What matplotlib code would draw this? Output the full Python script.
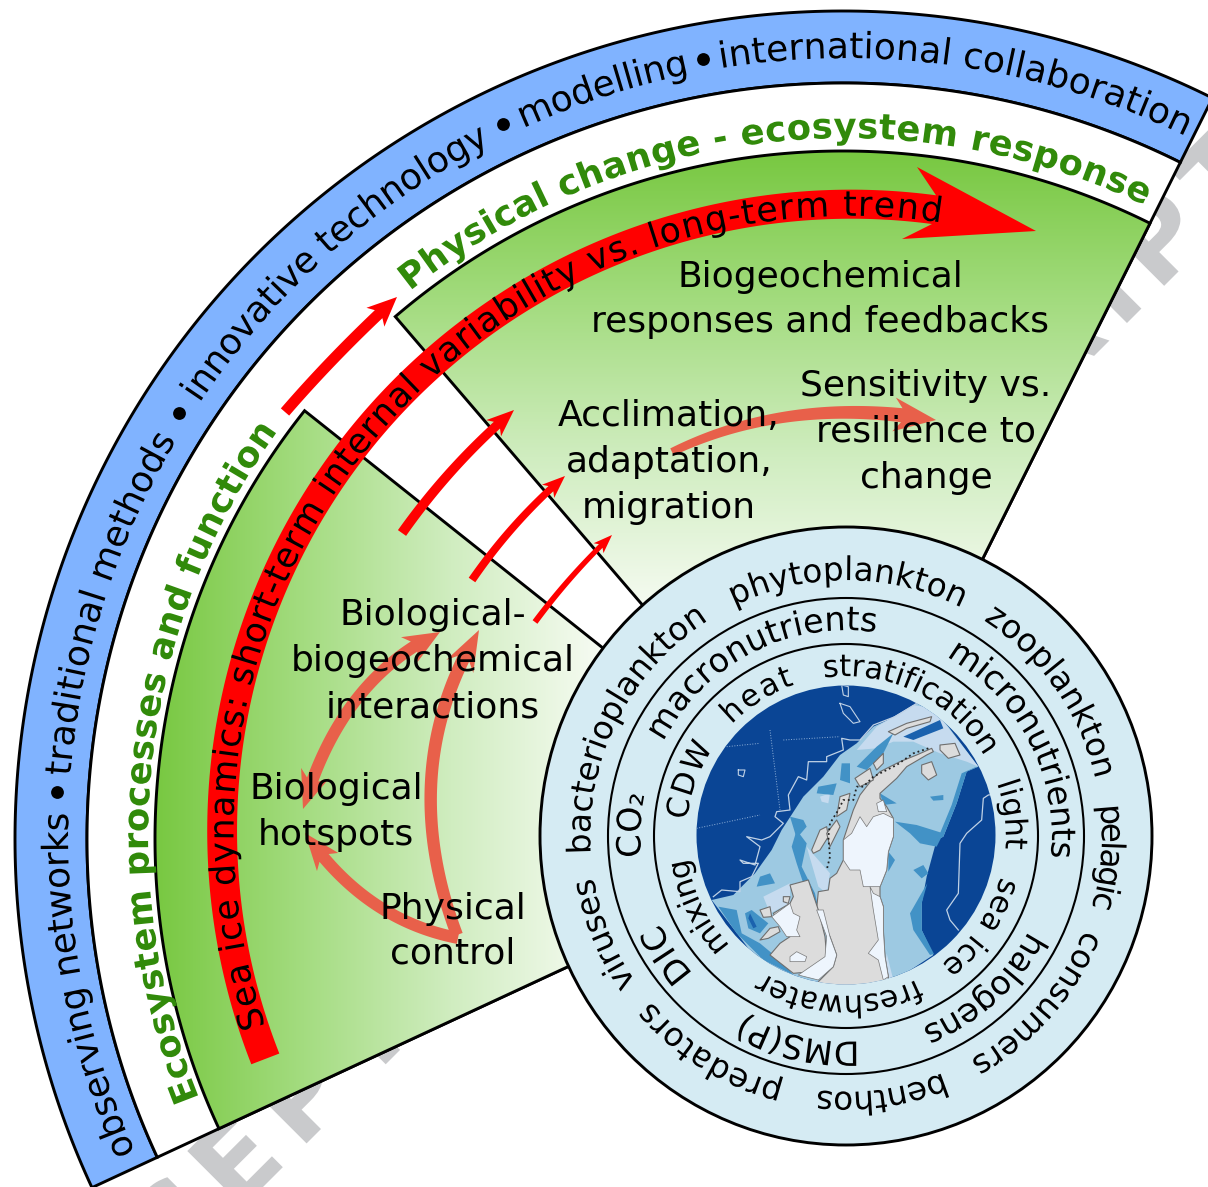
import numpy as np
import matplotlib
matplotlib.use('Agg')
import matplotlib.pyplot as plt
import matplotlib.patheffects as pe
from matplotlib.patches import Polygon, Circle, Ellipse
from matplotlib.colors import LinearSegmentedColormap
from matplotlib.font_manager import FontProperties, findfont, get_font
from matplotlib.ft2font import LoadFlags

W, H = 1208, 1187
CX, CY = 846, 836      # centre of the rings and of the curved text
FX, FY = 843, 839      # centre of the fan outline

# ---- text data -----
watermark = "ACCEPTED MANUSCRIPT"
outer_band = [("observing networks", 204.0, 178.3), ("traditional methods", 175.6, 149.4),
              ("innovative technology", 146.2, 117.2), ("modelling", 114.5, 101.6),
              ("international collaboration", 99.3, 64.1)]
outer_bullets = [176.8, 147.6, 115.7, 100.4]
green_titles = [("Ecosystem processes and function", 202.1, 144.5), ("Physical change - ecosystem response", 128.7, 64.6)]
red_title = ("Sea ice dynamics: short-term internal variability vs. long-term trend", 198.2, 81.1)
ring1 = [("bacterioplankton", 184, 122.5), ("phytoplankton", 116, 63.1), ("zooplankton", 57.5, 12.8),
         ("pelagic", 6.6, -16), ("consumers", -21.5, -61), ("benthos", -67.7, -96.5),
         ("predators", -104, -139.8), ("viruses", -145.1, -170.6)]
ring2 = [("CO\u2082", 186, 168.2), ("macronutrients", 152.8, 81.5), ("micronutrients", 60.8, -6.1),
         ("halogens", -27.6, -68.3), ("DMS(P)", -86.3, -119.8), ("DIC", -137.8, -155)]
ring3 = [("CDW", 174.5, 146.2), ("heat", 136.2, 108.6), ("stratification", 98, 30), ("light", 19.4, -4.7),
         ("sea ice", -14.8, -53.5), ("freshwater", -63.7, -121.4), ("mixing", -136.8, -171.8)]
labels = [("Biogeochemical", 820, 287), ("responses and feedbacks", 820, 332),
          ("Acclimation,", 669, 426), ("adaptation,", 669, 472), ("migration", 669, 518),
          ("Sensitivity vs.", 926, 396), ("resilience to", 926, 442), ("change", 926, 488),
          ("Biological-", 433, 625), ("biogeochemical", 433, 671), ("interactions", 433, 717),
          ("Biological", 336, 799), ("hotspots", 336, 845), ("Physical", 453, 919), ("control", 453, 964)]

# ---- colours -----
BLUE = '#80b3ff'; RING = '#d5ebf3'; GREEN_TXT = '#318a0a'; ARROW2 = '#e8604a'
greens = LinearSegmentedColormap.from_list('g', ['#78c841', '#a4dc80', '#d0edc0', '#f6fbf2'])

plt.rcParams['font.family'] = 'DejaVu Sans'
fig = plt.figure(figsize=(W / 100, H / 100), dpi=100)
ax = fig.add_axes([0, 0, 1, 1])
ax.set_xlim(0, W); ax.set_ylim(H, 0); ax.axis('off')


def pt(r, a, cx=CX, cy=CY):
    t = np.radians(a)
    return cx + r * np.cos(t), cy - r * np.sin(t)


def wedge(r0, r1, a0, a1, n=240):
    a = np.linspace(a0, a1, n)
    x1, y1 = pt(r1, a, FX, FY)
    x0, y0 = pt(r0, a[::-1], FX, FY)
    return np.column_stack([np.r_[x1, x0], np.r_[y1, y0]])


def advances(s, bold=False):
    fp = FontProperties(family='DejaVu Sans', weight='bold' if bold else 'normal')
    f = get_font(findfont(fp))
    f.set_size(100, 72)
    return np.array([f.load_char(ord(c), flags=LoadFlags.NO_HINTING).linearHoriAdvance / 65536 for c in s])


def arc_text(s, r, a0, a1, fs, color='k', bold=False, z=20):
    """r: baseline radius, or (r at a0, r at a1). Glyphs are drawn as outlines for sub-pixel placement."""
    adv = advances(s, bold)
    r0, r1 = r if isinstance(r, tuple) else (r, r)
    fs_px = fs * 100 / 72
    total = adv.sum()
    before = np.cumsum(adv) - adv
    for c, b, w in zip(s, before, adv):
        if c == ' ':
            continue
        ac = a0 + (a1 - a0) * (b + w / 2) / total
        rr = r0 + (r1 - r0) * (b + w / 2) / total
        natural = np.degrees((w / 100 * fs_px) / rr) / 2    # half the glyph's own width, in degrees
        a_start = ac - np.sign(a1 - a0) * natural
        x, y = pt(rr, a_start)
        ax.text(x, y, c, rotation=ac - 90, rotation_mode='anchor', ha='left', va='baseline',
                fontsize=fs, color=color, fontweight='bold' if bold else 'normal', zorder=z,
                path_effects=[pe.Normal()])


def bezier_arrow(p0, c, p1, w0, w1, hw, hl, color, z=10, head_start=None):
    t = np.linspace(0, 1, 60)
    p0, c, p1 = map(np.array, (p0, c, p1))
    P = np.outer((1 - t) ** 2, p0) + np.outer(2 * t * (1 - t), c) + np.outer(t ** 2, p1)
    d = np.gradient(P, axis=0)
    L = np.cumsum(np.r_[0, np.hypot(*np.diff(P, axis=0).T)])
    keep = L < L[-1] - hl
    if head_start:
        keep &= L > head_start
    Q = P[keep]; dd = d[keep]
    n = np.column_stack([-dd[:, 1], dd[:, 0]]) / np.hypot(dd[:, 0], dd[:, 1])[:, None]
    w = np.interp(L[keep], [0, L[-1]], [w0, w1])[:, None] / 2
    left, right = Q + n * w, Q - n * w
    pts = [left]
    nn = n[-1]
    back = (Q[-1] - Q[-3]) * 0.8
    pts.append(np.array([Q[-1] + nn * hw / 2 - back, p1, Q[-1] - nn * hw / 2 - back]))
    pts.append(right[::-1])
    if head_start:
        n0 = n[0]
        fwd = (Q[2] - Q[0]) * 0.8
        pts.append(np.array([Q[0] - n0 * hw / 2 + fwd, p0, Q[0] + n0 * hw / 2 + fwd]))
    ax.add_patch(Polygon(np.vstack(pts), closed=True, fc=color, ec='none', zorder=z))


# ---- watermark: spaced letters along the 45 degree line x + y = 1450 ----
wm_fs = 78
wm_px = wm_fs * 100 / 72
wm_track = 1.205
wm_adv = advances(watermark, bold=True) / 100 * wm_px
wm_before = np.cumsum(wm_adv) - wm_adv
wm_origin = -699 - wm_track * wm_before[3]      # the first E sits at s = -699
for ch, b, w in zip(watermark, wm_before, wm_adv):
    if ch == ' ':
        continue
    s = wm_origin + wm_track * b + (wm_track - 1) * w / 2
    px = (1450 + s * np.sqrt(2)) / 2
    py = (1450 - s * np.sqrt(2)) / 2
    if -150 < px < W + 150 and -150 < py < H + 150:
        ax.text(px, py, ch, rotation=45, rotation_mode='anchor', ha='left', va='baseline', fontsize=wm_fs,
                fontweight='bold', color='#c9cacc', zorder=0, path_effects=[pe.Normal()], clip_on=True)

# ---- fan bands ----
A_R, A_L = 63.5, 204.9
LW = 2.1
ax.add_patch(Polygon(wedge(756, 828, A_R, A_L), fc=BLUE, ec='k', lw=LW, zorder=2))
ax.add_patch(Polygon(wedge(300, 756, A_R, A_L), fc='white', ec='k', lw=LW, zorder=2))


def gradient_sector(poly, extent, vertical):
    patch = Polygon(poly, fc='none', ec='none', zorder=3)
    ax.add_patch(patch)
    g = np.linspace(0, 1, 256)
    arr = g[:, None] if vertical else g[None, :]
    im = ax.imshow(arr, cmap=greens, extent=extent, aspect='auto', zorder=3, vmin=0, vmax=1)
    im.set_clip_path(patch)
    ax.set_xlim(0, W); ax.set_ylim(H, 0)
    ax.add_patch(Polygon(poly, fc='none', ec='k', lw=LW, zorder=4))


gradient_sector(wedge(300, 688, 141.5, A_L), (155, 600, 1187, 400), False)
gradient_sector(wedge(300, 688, A_R, 130.6), (390, 1160, 610, 152), True)

# ---- big red arrow -----
a_band = np.linspace(201.0, 82.0, 200)
ri = np.interp(a_band, [82, 201], [618, 607]); ro = np.interp(a_band, [82, 201], [647, 637])
xi, yi = pt(ri, a_band); xo, yo = pt(ro, a_band)
big = np.vstack([np.column_stack([xo, yo]),
                 [(917, 167), (1036, 231), (902, 239)],
                 np.column_stack([xi, yi])[::-1]])
ax.add_patch(Polygon(big, fc='#ff0000', ec='none', zorder=6))
arc_text(red_title[0], (611, 621), red_title[1], red_title[2], 25)

# ---- red pointer arrows -----
bezier_arrow((285, 412), (336, 353), (397, 297), 11, 11, 26, 24, '#ff0000')
bezier_arrow((402, 533), (450, 465), (514, 410), 10, 9, 22, 20, '#ff0000')
bezier_arrow((472, 580), (512, 522), (565, 476), 8, 7, 18, 17, '#ff0000')
bezier_arrow((535, 622), (570, 575), (612, 535), 6, 5, 14, 15, '#ff0000')

# ---- salmon arrows ----
bezier_arrow((303, 809), (340, 680), (440, 632), 12, 12, 30, 28, ARROW2, head_start=28, z=7)
bezier_arrow((457, 935), (395, 770), (479, 630), 12, 13, 30, 30, ARROW2, z=7)
bezier_arrow((458, 938), (365, 920), (305, 833), 12, 12, 28, 28, ARROW2, z=7)
bezier_arrow((672, 452), (790, 395), (936, 420), 8, 15, 34, 30, ARROW2, z=7)

# ---- band texts ----
for s, a0, a1 in outer_band:
    arc_text(s, 778, a0, a1, 26)
bx, by = pt(790, np.array(outer_bullets))
ax.scatter(bx, by, s=85, c='k', zorder=20, lw=0)
for s, a0, a1 in green_titles:
    arc_text(s, 698, a0, a1, 25.5, color=GREEN_TXT, bold=True)

# ---- central rings ----
ax.add_patch(Ellipse((CX, CY), 612, 618, fc=RING, ec='k', lw=LW, zorder=12))
ax.add_patch(Circle((CX, CY), 238, fc='none', ec='k', lw=1.5, zorder=13))
ax.add_patch(Circle((CX, CY), 192, fc='none', ec='k', lw=1.5, zorder=13))
for s, a0, a1 in ring1:
    arc_text(s, 256, a0, a1, 23.5)
for s, a0, a1 in ring2:
    arc_text(s, 206, a0, a1, 24)
for s, a0, a1 in ring3:
    arc_text(s, 160, a0, a1, 22)

# ---- map (outlines in crop coordinates, 3x, origin 680,670) ----
map_clip = Circle((CX, 835), 149.5, transform=ax.transData, fc='#0a4595', ec='none', zorder=14)
ax.add_patch(map_clip)
shelf = [(95, 690), (160, 675), (225, 610), (275, 540), (305, 480), (370, 380), (430, 320), (480, 255), (530, 220),
         (580, 170), (645, 140), (710, 100), (760, 110), (895, 290), (860, 305), (830, 400), (790, 500), (770, 510),
         (740, 620), (725, 700), (725, 780), (760, 855), (600, 960), (300, 960)]
mid_a = [(115, 710), (170, 720), (185, 790), (240, 820), (300, 870), (340, 915), (250, 870), (170, 790)]
mid_b = [(645, 455), (710, 465), (790, 490), (770, 530), (720, 520), (690, 490)]
mid_c = [(730, 660), (690, 730), (700, 780), (750, 855), (762, 852), (725, 780), (725, 700), (742, 640)]
mid_d = [(700, 600), (730, 585), (745, 610), (725, 625)]
mid_e = [(885, 292), (895, 290), (860, 305), (830, 400), (790, 500), (770, 510), (780, 490), (815, 405), (845, 310)]
mid_f = [(485, 280), (510, 280), (510, 340), (480, 330)]
mid_g = [(415, 350), (470, 340), (460, 375), (410, 370)]
mid_h = [(600, 370), (650, 400), (610, 405)]
mid_i = [(750, 380), (790, 375), (790, 390), (760, 392)]
mid_j = [(625, 545), (645, 570), (625, 605)]
mid_k = [(330, 440), (370, 450), (380, 470), (350, 505)]
mid_l = [(350, 480), (380, 520), (365, 590), (405, 670), (415, 715), (405, 710), (375, 655), (350, 580), (335, 530)]
mid_m = [(240, 620), (270, 610), (285, 640), (230, 650)]
mid_n = [(195, 730), (215, 720), (265, 760), (240, 790), (205, 775)]
mid_o = [(590, 230), (640, 190), (610, 250), (560, 300), (530, 290)]
pale_a = [(530, 240), (590, 170), (700, 105), (760, 115), (895, 290), (860, 275), (780, 250), (700, 215), (640, 215), (590, 235)]
pale_b = [(380, 530), (450, 610), (440, 670), (415, 650)]
pale_c = [(420, 380), (450, 370), (445, 400), (425, 395)]
pale_d = [(250, 680), (330, 640), (330, 700), (270, 730)]
pale_e = [(620, 850), (640, 930), (625, 940), (615, 900)]
dark_a = [(670, 200), (780, 150), (790, 175), (700, 210)]
dark_b = [(210, 730), (230, 770), (220, 775), (205, 745)]
land = [(755, 235), (710, 255), (660, 275), (600, 305), (575, 330), (540, 375), (520, 420), (500, 480), (490, 510),
        (490, 570), (470, 610), (450, 625), (445, 660), (415, 665), (410, 715), (450, 800), (470, 855), (460, 890),
        (415, 935), (420, 950), (625, 950), (625, 920), (615, 860), (610, 780), (610, 710), (600, 680), (600, 650),
        (620, 600), (625, 545), (640, 500), (640, 445), (620, 410), (600, 385), (600, 370), (650, 325), (680, 290),
        (740, 255), (760, 245)]
alex = [(330, 645), (385, 630), (415, 720), (435, 800), (440, 860), (395, 905), (340, 910), (270, 855), (300, 820),
        (330, 800), (300, 760), (280, 730), (330, 700), (340, 680)]
isl_a = [(395, 540), (420, 480), (440, 470), (445, 500), (420, 540), (400, 550)]
isl_b = [(240, 810), (270, 775), (295, 770), (300, 785), (265, 805)]
isl_c = [(625, 185), (680, 160), (755, 140), (750, 155), (680, 175), (645, 195)]
isl_d = [(725, 285), (755, 275), (770, 315), (745, 330), (725, 310)]
isl_e = [(780, 225), (825, 220), (840, 255), (805, 265), (780, 240)]
isl_f = [(240, 720), (270, 710), (275, 740), (250, 742)]
isl_g = [(525, 325), (570, 295), (580, 330), (540, 350)]
isl_h = [(480, 380), (510, 370), (500, 420), (470, 440)]
isl_i = [(580, 280), (610, 250), (610, 280), (590, 300)]
isl_j = [(440, 490), (470, 450), (480, 470), (450, 530)]
isl_k = [(310, 680), (330, 680), (325, 700), (310, 695)]
ice_a = [(540, 440), (560, 470), (580, 440), (610, 430), (640, 445), (640, 500), (625, 545), (620, 600), (600, 650),
         (570, 650), (550, 650), (540, 600), (510, 600), (490, 570), (490, 510), (515, 490)]
ice_b = [(570, 650), (580, 670), (600, 680), (610, 710), (610, 780), (615, 860), (625, 920), (610, 930), (595, 870),
         (565, 850), (595, 810), (585, 750), (580, 720)]
ice_c = [(410, 720), (430, 720), (450, 800), (470, 855), (460, 890), (415, 930), (355, 915), (435, 860), (440, 800)]
ice_d = [(275, 740), (330, 700), (340, 730), (360, 740), (350, 780), (360, 800), (320, 800), (300, 770)]
ice_e = [(330, 860), (350, 845), (380, 860), (375, 875), (330, 875)]
ice_f = [(590, 400), (610, 390), (620, 425), (595, 425)]
front_nw = [(100, 680), (125, 660), (180, 665), (180, 635), (215, 620), (235, 580), (190, 580), (180, 570), (225, 585),
            (240, 530), (200, 500), (245, 510), (270, 500), (310, 460), (285, 440), (290, 425), (330, 420), (325, 375),
            (355, 320), (380, 330), (385, 275), (440, 275), (440, 260), (490, 240), (485, 205), (510, 210), (540, 210),
            (580, 165), (645, 140), (710, 100)]
front_se = [(835, 780), (810, 750), (800, 720), (835, 670), (840, 520), (860, 490), (905, 450), (910, 385), (925, 375), (945, 372)]
loop_a = [(175, 300), (195, 300), (190, 320), (175, 315)]
loop_b = [(480, 100), (510, 110), (540, 155), (520, 160), (490, 130)]
loop_c = [(485, 45), (505, 50), (505, 80), (490, 75)]
grid_a = [(270, 180), (300, 420)]
grid_b = [(50, 475), (240, 435)]
grid_c = [(310, 210), (480, 200)]
grid_d = [(140, 230), (240, 220)]
coast = [(745, 235), (700, 250), (650, 285), (610, 305), (580, 320), (550, 350), (530, 350), (520, 390), (490, 390),
         (475, 420), (450, 460), (445, 500), (450, 560), (440, 600)]


def Z(points):
    a = np.array(points, dtype=float)
    return np.column_stack([a[:, 0] / 3 + 680, a[:, 1] / 3 + 670])


def fill(points, color, z=15, ec='none', lw=0):
    p = Polygon(Z(points), fc=color, ec=ec, lw=lw, zorder=z, joinstyle='round')
    ax.add_patch(p); p.set_clip_path(map_clip)


fill(shelf, '#9dc9e2')
for p in (pale_a, pale_b, pale_c, pale_d, pale_e):
    fill(p, '#c6dbef')
for p in (mid_a, mid_b, mid_c, mid_d, mid_e, mid_f, mid_g, mid_h, mid_i, mid_j, mid_k, mid_l, mid_m, mid_n, mid_o):
    fill(p, '#4292c6')
for p in (dark_a, dark_b):
    fill(p, '#1b62ae')
for p in (land, alex, isl_a, isl_b, isl_c, isl_d, isl_e, isl_f, isl_g, isl_h, isl_i, isl_j, isl_k):
    fill(p, '#dcdcdc', z=16, ec='#6e6e6e', lw=0.8)
for p in (ice_a, ice_b, ice_c, ice_d, ice_e, ice_f):
    fill(p, '#eef5fd', z=17, ec='#777777', lw=0.5)
for line, col, lw, ls in ((front_nw, '#c0d2e6', 0.9, '-'), (front_se, '#c0d2e6', 0.9, '-'),
                          (loop_a + loop_a[:1], '#c0d2e6', 0.8, '-'), (loop_b + loop_b[:1], '#c0d2e6', 0.8, '-'),
                          (loop_c + loop_c[:1], '#c0d2e6', 0.8, '-'),
                          (grid_a, '#8fb0d8', 0.7, ':'), (grid_b, '#8fb0d8', 0.7, ':'), (grid_c, '#8fb0d8', 0.7, ':'),
                          (grid_d, '#8fb0d8', 0.7, ':'), (coast, '#222222', 1.3, ':')):
    z = Z(line)
    l, = ax.plot(z[:, 0], z[:, 1], color=col, lw=lw, ls=ls, zorder=18)
    l.set_clip_path(map_clip)

# ---- plain labels ----
for s, x, y in labels:
    ax.text(x, y, s, ha='center', va='baseline', fontsize=26, color='k', zorder=21)

fig.savefig('out.png', dpi=100)
